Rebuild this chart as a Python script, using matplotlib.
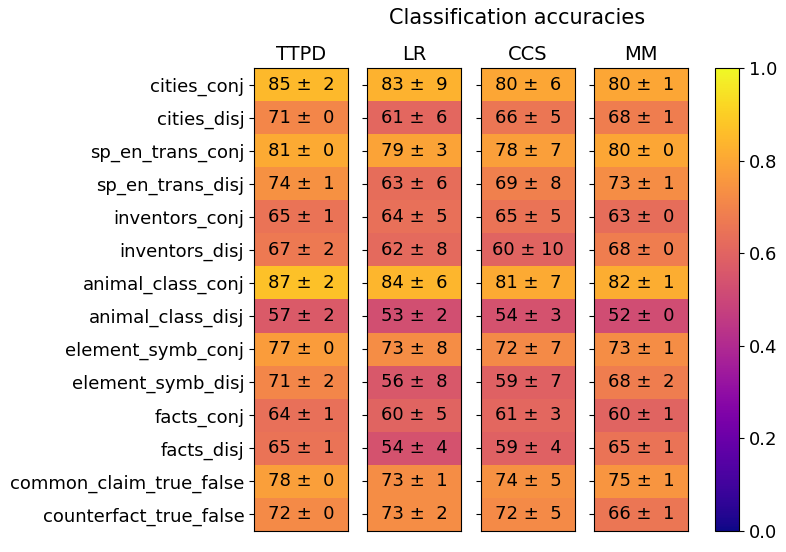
import numpy as np
import matplotlib
matplotlib.use("Agg")
import matplotlib.pyplot as plt

datasets = ["cities_conj", "cities_disj", "sp_en_trans_conj", "sp_en_trans_disj",
            "inventors_conj", "inventors_disj", "animal_class_conj", "animal_class_disj",
            "element_symb_conj", "element_symb_disj", "facts_conj", "facts_disj",
            "common_claim_true_false", "counterfact_true_false"]
methods = ["TTPD", "LR", "CCS", "MM"]

ttpd_mean = [85, 71, 81, 74, 65, 67, 87, 57, 77, 71, 64, 65, 78, 72]
ttpd_std = [2, 0, 0, 1, 1, 2, 2, 2, 0, 2, 1, 1, 0, 0]
lr_mean = [83, 61, 79, 63, 64, 62, 84, 53, 73, 56, 60, 54, 73, 73]
lr_std = [9, 6, 3, 6, 5, 8, 6, 2, 8, 8, 5, 4, 1, 2]
ccs_mean = [80, 66, 78, 69, 65, 60, 81, 54, 72, 59, 61, 59, 74, 72]
ccs_std = [6, 5, 7, 8, 5, 10, 7, 3, 7, 7, 3, 4, 5, 5]
mm_mean = [80, 68, 80, 73, 63, 68, 82, 52, 73, 68, 60, 65, 75, 66]
mm_std = [1, 1, 0, 1, 0, 0, 1, 0, 1, 2, 1, 1, 1, 1]

means = [ttpd_mean, lr_mean, ccs_mean, mm_mean]
stds = [ttpd_std, lr_std, ccs_std, mm_std]

fig = plt.figure(figsize=(7.86, 5.52), dpi=100)
W, H = 786, 552
lefts = [254, 367, 481, 594]
top, bottom = 68, 531
aw = 94
im = None
for i, (name, m, s) in enumerate(zip(methods, means, stds)):
    ax = fig.add_axes([lefts[i] / W, (H - bottom) / H, aw / W, (bottom - top) / H])
    vals = np.array(m, dtype=float).reshape(-1, 1) / 100.0
    im = ax.imshow(vals, cmap="plasma", vmin=0, vmax=1, aspect="auto")
    for j in range(len(datasets)):
        ax.text(0, j, f"{m[j]:2.0f} ± {s[j]:2.0f}", ha="center", va="center",
                color="black", fontsize=13)
    ax.set_xticks([])
    ax.set_yticks(range(len(datasets)))
    if i == 0:
        ax.set_yticklabels(datasets, fontsize=13)
    else:
        ax.set_yticklabels([])
    ax.set_title(name, fontsize=14)

cax = fig.add_axes([715 / W, (H - bottom) / H, 24 / W, (bottom - top) / H])
cb = fig.colorbar(im, cax=cax)
cb.ax.tick_params(labelsize=13)
fig.suptitle("Classification accuracies", fontsize=15, x=517 / W, y=1 - 8 / H, va="top")
fig.savefig("out.png", dpi=100)
